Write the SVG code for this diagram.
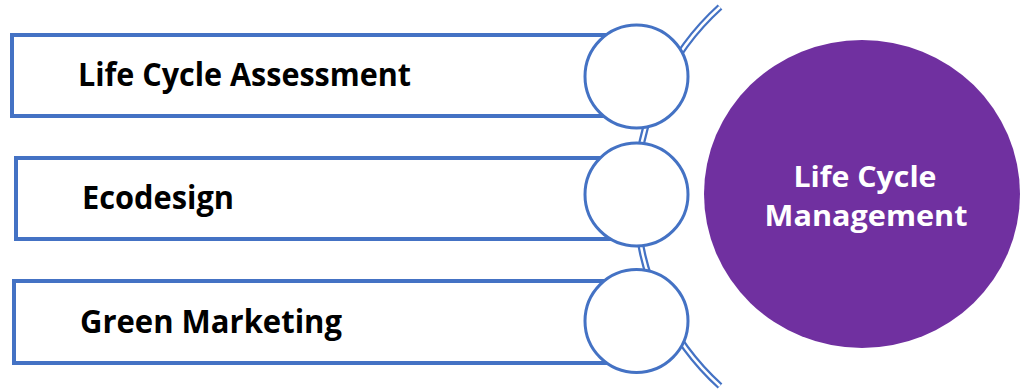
<svg xmlns="http://www.w3.org/2000/svg" width="1020" height="389" viewBox="0 0 1020 389">
<style>
.box{fill:#fff;stroke:#4472C4;stroke-width:4}
.ring{fill:#fff;stroke:#4472C4;stroke-width:3}
.lbl{font-family:"Open Sans","Liberation Sans",sans-serif;font-weight:bold;font-size:33px;fill:#000}
.hub{font-family:"Open Sans","Liberation Sans",sans-serif;font-weight:bold;font-size:29px;fill:#fff;text-anchor:middle}
</style>
<rect width="1020" height="389" fill="#fff"/>
<g id="connectors">
<path d="M720,7 A256,256 0 0 0 720,386" fill="none" stroke="#4472C4" stroke-width="7"/>
<path d="M720,7 A256,256 0 0 0 720,386" fill="none" stroke="#fff" stroke-width="2.5"/>
</g>
<g id="node-lca">
<rect class="box" x="12" y="35" width="620" height="81"/>
<circle class="ring" cx="636.5" cy="76.5" r="51.5"/>
<text class="lbl" x="78" y="86" textLength="333" lengthAdjust="spacingAndGlyphs">Life Cycle Assessment</text>
</g>
<g id="node-eco">
<rect class="box" x="16" y="158" width="616" height="81"/>
<circle class="ring" cx="636.5" cy="194.5" r="51.5"/>
<text class="lbl" x="82" y="209" textLength="152" lengthAdjust="spacingAndGlyphs">Ecodesign</text>
</g>
<g id="node-green">
<rect class="box" x="14" y="281" width="618" height="82"/>
<circle class="ring" cx="636.5" cy="321" r="51.5"/>
<text class="lbl" x="80" y="333" textLength="262" lengthAdjust="spacingAndGlyphs">Green Marketing</text>
</g>
<g id="node-lcm">
<ellipse cx="862" cy="194" rx="158" ry="154" fill="#7030A0"/>
<text class="hub" x="865" y="187" textLength="143" lengthAdjust="spacingAndGlyphs">Life Cycle</text>
<text class="hub" x="866" y="226" textLength="203" lengthAdjust="spacingAndGlyphs">Management</text>
</g>
</svg>
